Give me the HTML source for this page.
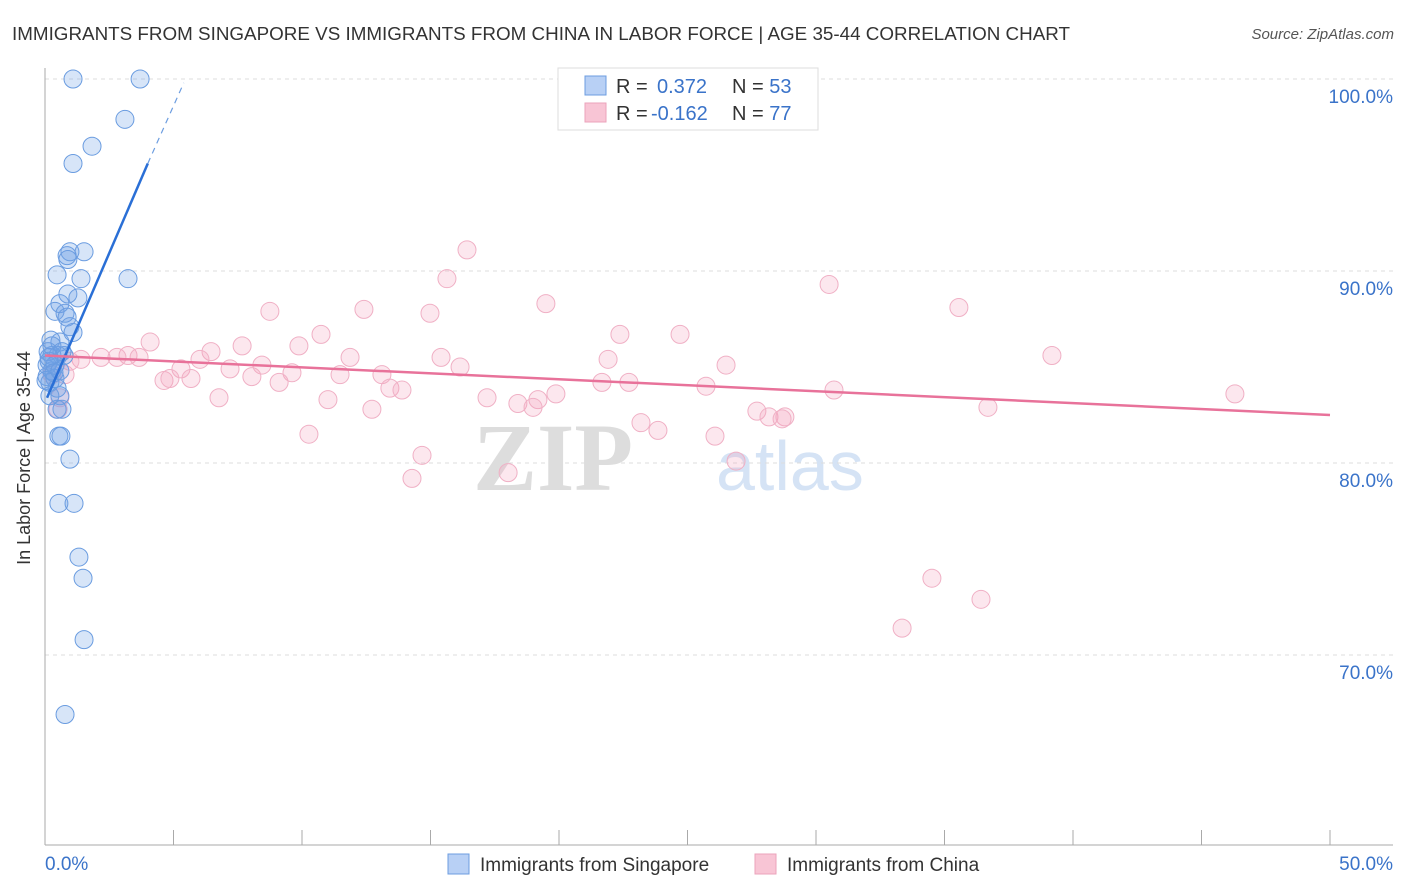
<!DOCTYPE html>
<html><head><meta charset="utf-8"><style>
body{margin:0;background:#fff;font-family:"Liberation Sans",sans-serif;}
#wrap{position:relative;width:1406px;height:892px;overflow:hidden;}
</style></head><body>
<div id="wrap">
<svg id="svg" width="1406" height="892" xmlns="http://www.w3.org/2000/svg">
<text x="12" y="40" font-size="18" fill="#333" textLength="1058" lengthAdjust="spacingAndGlyphs">IMMIGRANTS FROM SINGAPORE VS IMMIGRANTS FROM CHINA IN LABOR FORCE | AGE 35-44 CORRELATION CHART</text>
<text x="1394" y="39" font-size="15" fill="#555" text-anchor="end" font-style="italic">Source: ZipAtlas.com</text>
<text x="633" y="490" font-size="96" fill="#ddd" text-anchor="end" font-family="Liberation Serif" font-weight="bold" textLength="160">ZIP</text>
<text x="716" y="490" font-size="70" fill="#d5e3f5">atlas</text>
<text x="30" y="458" font-size="18" fill="#333" text-anchor="middle" transform="rotate(-90 30 458)">In Labor Force | Age 35-44</text>
<g id="grid"></g><g id="pts"></g><g id="lines"></g>
<g>
<rect x="558" y="68" width="260" height="62" fill="#fff" stroke="#ddd"/>
<rect x="585" y="76" width="21" height="19" fill="#b8d0f5" stroke="#6c9de0"/>
<rect x="585" y="103" width="21" height="19" fill="#f8c5d5" stroke="#eba3bb"/>
<text x="616" y="93" font-size="20" fill="#333">R = <tspan fill="#3a73c9" x="657">0.372</tspan><tspan fill="#333" x="732">N = </tspan><tspan fill="#3a73c9">53</tspan></text>
<text x="616" y="120" font-size="20" fill="#333">R = <tspan fill="#3a73c9" x="651">-0.162</tspan><tspan fill="#333" x="732">N = </tspan><tspan fill="#3a73c9">77</tspan></text>
</g>
<g>
<rect x="448" y="854" width="21" height="20" fill="#b8d0f5" stroke="#6c9de0"/>
<text x="480" y="871" font-size="19" fill="#333">Immigrants from Singapore</text>
<rect x="755" y="854" width="21" height="20" fill="#f8c5d5" stroke="#eba3bb"/>
<text x="787" y="871" font-size="19" fill="#333">Immigrants from China</text>
</g>
<text x="45" y="870" font-size="19" fill="#3a73c9">0.0%</text>
<text x="1393" y="870" font-size="19" fill="#3a73c9" text-anchor="end">50.0%</text>
</svg>
</div>
<script>
const yTicks=[100,90,80,70];
const blueX=[1.09,3.70,3.11,1.83,1.09,0.97,1.52,0.86,0.89,0.47,1.40,3.23,0.89,1.28,0.58,0.39,0.78,0.86,0.97,1.09,0.23,0.58,0.12,0.27,0.51,0.74,0.16,0.27,0.08,0.39,0.19,0.47,0.58,0.47,0.66,0.54,0.62,0.97,0.54,1.13,1.32,1.48,1.52,0.78,0.27,0.08,0.39,0.19,0.04,0.66,0.16,0.35,0.58];
const blueY=[100,100,97.9,96.5,95.6,91.0,91.0,90.8,90.6,89.8,89.6,89.6,88.8,88.6,88.3,87.9,87.8,87.6,87.1,86.8,86.4,86.3,85.8,85.6,85.6,85.6,85.3,84.8,84.5,84.4,84.2,83.9,83.5,82.8,82.8,81.4,81.4,80.2,77.9,77.9,75.1,74.0,70.8,66.9,86.1,85.1,85.1,83.5,84.3,85.8,85.5,84.7,84.8];
const pinkX=[20.35,29.69,21.05,16.42,15.64,19.49,30.51,35.56,8.75,12.41,14.98,10.74,22.37,24.71,4.09,6.46,7.67,9.88,39.18,3.23,2.18,2.80,3.66,1.40,11.87,15.41,21.91,26.50,16.15,6.03,7.20,8.44,5.29,9.61,11.48,13.11,4.63,4.86,5.68,8.05,9.11,13.42,13.89,22.72,21.67,25.72,30.70,46.30,6.77,11.01,17.20,19.88,18.40,19.18,18.99,12.72,27.70,28.17,28.79,28.68,36.69,10.27,23.19,23.85,26.07,14.67,14.28,18.02,26.89,34.51,36.42,33.35,0.51,0.27,0.78,0.58,0.97];
const pinkY=[100,100,99.3,91.1,89.6,88.3,89.3,88.1,87.9,88.0,87.8,86.7,86.7,86.7,86.3,85.8,86.1,86.1,85.6,85.6,85.5,85.5,85.5,85.4,85.5,85.5,85.4,85.1,85.0,85.4,84.9,85.1,84.9,84.7,84.6,84.6,84.3,84.4,84.4,84.5,84.2,83.9,83.8,84.2,84.2,84.0,83.8,83.6,83.4,83.3,83.4,83.6,83.1,83.3,82.9,82.8,82.7,82.4,82.4,82.3,82.9,81.5,82.1,81.7,81.4,80.4,79.2,79.5,80.1,74.0,72.9,71.4,82.8,84.6,84.6,83.4,85.3];
const blueTrendX=[0.08,4.0,5.4];
const blueTrendY=[83.4,95.6,99.8];
const pinkTrendX=[0,50];
const pinkTrendY=[85.6,82.5];
const NS="http://www.w3.org/2000/svg";
function sx(v){return 45+v*25.7;}
function sy(v){return 79+(100-v)*19.2;}
function mk(tag,attrs,parent){const e=document.createElementNS(NS,tag);for(const k in attrs)e.setAttribute(k,attrs[k]);parent.appendChild(e);return e;}
const grid=document.getElementById('grid');
yTicks.forEach(t=>{
  const l=mk('line',{x1:45,x2:1393,y1:sy(t),y2:sy(t),stroke:'#ddd','stroke-dasharray':'4,4'},grid);
  
  
  const tx=mk('text',{x:1393,y:sy(t)+24,'font-size':19,fill:'#3a73c9','text-anchor':'end'},grid);
  tx.textContent=t.toFixed(1)+'%';
  
  
});
const ax=mk('line',{x1:45,x2:45,y1:68,y2:845,stroke:'#aaa'},grid);


const bx=mk('line',{x1:45,x2:1393,y1:845,y2:845,stroke:'#aaa'},grid);


for(let i=1;i<=10;i++){
  const tk=mk('line',{x1:sx(i*5),x2:sx(i*5),y1:830,y2:845,stroke:'#aaa'},grid);
  
  
}
const pts=document.getElementById('pts');
pinkX.forEach((x,i)=>{
  const c=mk('circle',{cx:sx(x),cy:sy(pinkY[i]),r:9,fill:'rgba(242,160,188,0.25)',stroke:'#f0b0c5','stroke-width':1},pts);
  
  
});
blueX.forEach((x,i)=>{
  const c=mk('circle',{cx:sx(x),cy:sy(blueY[i]),r:9,fill:'rgba(110,160,230,0.28)',stroke:'#6a9ce0','stroke-width':1},pts);
  
  
});
const lines=document.getElementById('lines');
const b1=mk('line',{x1:sx(blueTrendX[0]),y1:sy(blueTrendY[0]),x2:sx(blueTrendX[1]),y2:sy(blueTrendY[1]),stroke:'#2a6fd6','stroke-width':2.5},lines);


const b2=mk('line',{x1:sx(blueTrendX[1]),y1:sy(blueTrendY[1]),x2:sx(blueTrendX[2]),y2:sy(blueTrendY[2]),stroke:'#6c9de0','stroke-width':1.2,'stroke-dasharray':'6,5'},lines);


const p1=mk('line',{x1:sx(pinkTrendX[0]),y1:sy(pinkTrendY[0]),x2:sx(pinkTrendX[1]),y2:sy(pinkTrendY[1]),stroke:'#e8729a','stroke-width':2.5},lines);


</script>
</body></html>
